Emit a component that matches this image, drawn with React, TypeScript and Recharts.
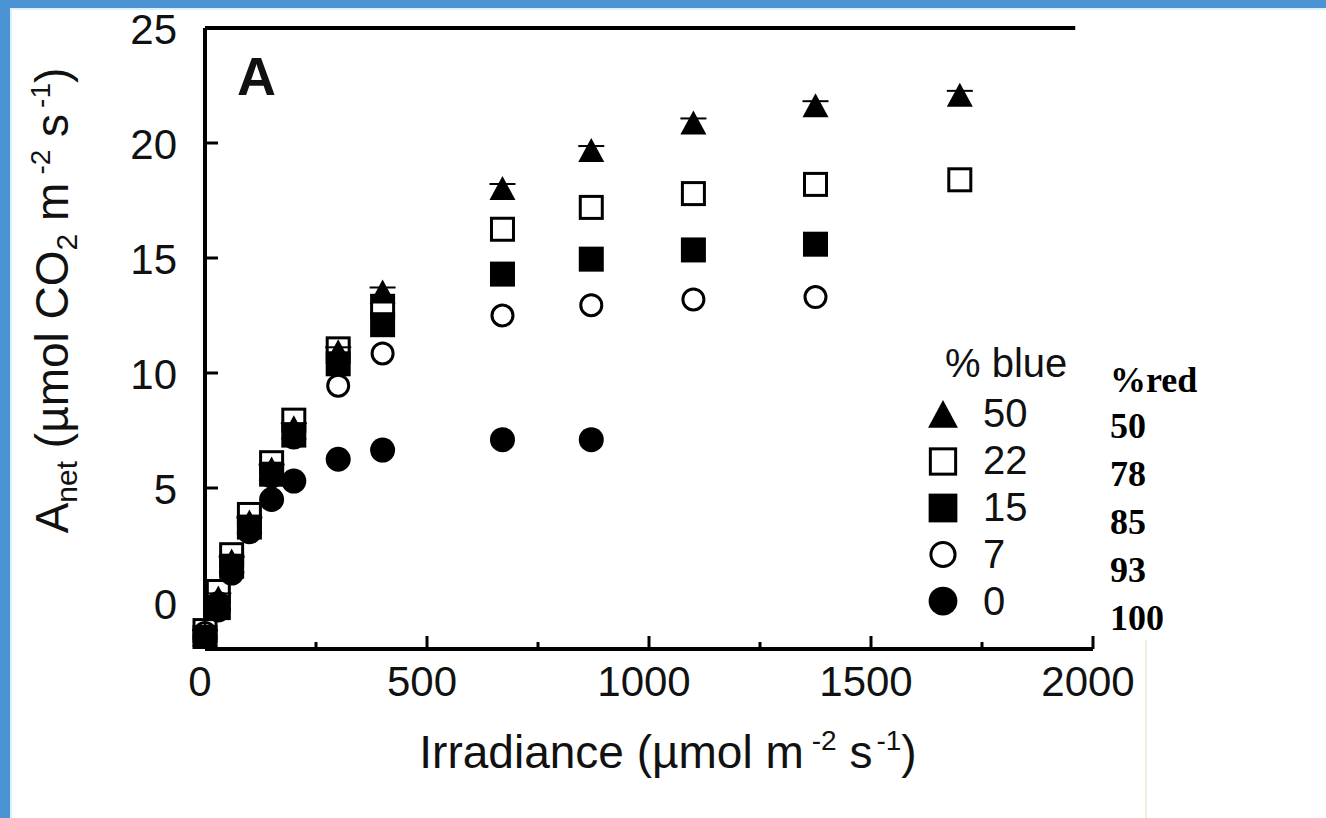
import React from "react";
import {
  ScatterChart, Scatter, XAxis, YAxis, ReferenceLine, Legend, Customized,
} from "recharts";

// irradiance steps (µmol m-2 s-1)
const IRRADIANCE = [0, 30, 60, 100, 150, 200, 300, 400, 670, 870, 1100, 1375, 1700];

// Anet per light mix
const BLUE_50 = [-1.4, 0.2, 1.8, 3.5, 5.8, 7.6, 10.9, 13.5, 18.0, 19.65, 20.85, 21.6, 22.05];
const BLUE_22 = [-1.2, 0.5, 2.1, 3.85, 6.1, 7.95, 11.05, 12.9, 16.25, 17.2, 17.8, 18.2, 18.4];
const BLUE_15 = [-1.5, -0.2, 1.6, 3.3, 5.6, 7.3, 10.4, 12.1, 14.3, 14.95, 15.35, 15.6];
const BLUE_7 = [-1.3, 0.0, 1.5, 3.2, 5.5, 7.2, 9.45, 10.85, 12.5, 12.95, 13.2, 13.3];
const BLUE_0 = [-1.5, -0.3, 1.3, 3.1, 4.5, 5.3, 6.25, 6.65, 7.1, 7.1];

const BLUE_LABELS = ["50", "22", "15", "7", "0"];
const RED_LABELS = ["50", "78", "85", "93", "100"];

const X_TICKS = [0, 250, 500, 750, 1000, 1250, 1500, 1750, 2000];
const Y_TICKS = [0, 5, 10, 15, 20, 25];

const SANS = "'Liberation Sans', Arial, sans-serif";
const SERIF = "'Liberation Serif', 'Times New Roman', serif";

const toPoints = (vals: number[]) => vals.map((y, i) => ({ x: IRRADIANCE[i], y }));

type Kind = "tri" | "openSq" | "sq" | "openCirc" | "circ";

function marker(kind: Kind, cx: number, cy: number, s = 1) {
  switch (kind) {
    case "tri":
      return (
        <g>
          <polygon
            points={`${cx},${cy - 13 * s} ${cx + 13 * s},${cy + 11 * s} ${cx - 13 * s},${cy + 11 * s}`}
            fill="#000"
          />
          {s === 1 && (
            <line x1={cx - 13} x2={cx + 13} y1={cy - 5} y2={cy - 5} stroke="#000" strokeWidth={2} />
          )}
        </g>
      );
    case "openSq":
      return <rect x={cx - 11 * s} y={cy - 11 * s} width={22 * s} height={22 * s} fill="#fff" stroke="#000" strokeWidth={3} />;
    case "sq":
      return <rect x={cx - 12.5 * s} y={cy - 12.5 * s} width={25 * s} height={25 * s} fill="#000" />;
    case "openCirc":
      return <circle cx={cx} cy={cy} r={10.5 * s} fill="#fff" stroke="#000" strokeWidth={3} />;
    default:
      return <circle cx={cx} cy={cy} r={12.5 * s} fill="#000" />;
  }
}

const shapeOf = (kind: Kind) => (p: any) => marker(kind, p.cx, p.cy);

const LEGEND_KINDS: Kind[] = ["tri", "openSq", "sq", "openCirc", "circ"];

const XTick = (props: any) => {
  const { x, y, payload } = props;
  const v = payload.value;
  const major = v % 500 === 0;
  return (
    <g>
      {v > 0 && <line x1={x} x2={x} y1={y} y2={y - (major ? 13 : 7)} stroke="#000" strokeWidth={3} />}
      {major && (
        <text x={x - 5} y={y + 47} textAnchor="middle" fontFamily={SANS} fontSize={42} fill="#111">
          {v}
        </text>
      )}
    </g>
  );
};

const YTick = (props: any) => {
  const { x, y, payload } = props;
  const v = payload.value;
  return (
    <g>
      {v > 0 && v < 25 && <line x1={x} x2={x + 13} y1={y} y2={y} stroke="#000" strokeWidth={3} />}
      <text x={x - 28} y={y + 16} textAnchor="end" fontFamily={SANS} fontSize={42} fill="#111">
        {v}
      </text>
    </g>
  );
};

const XTitle = (props: any) => {
  const vb = props.viewBox;
  return (
    <text x={vb.x + vb.width / 2 + 19} y={vb.y + 119} textAnchor="middle" fontFamily={SANS} fontSize={46} fill="#111">
      Irradiance (µmol m
      <tspan dx={8} dy={-18} fontSize={28}>-2</tspan>
      <tspan dy={18}> s</tspan>
      <tspan dx={4} dy={-18} fontSize={28}>-1</tspan>
      <tspan dy={18}>)</tspan>
    </text>
  );
};

const YTitle = (props: any) => {
  const vb = props.viewBox;
  const cy = vb.y + vb.height / 2 - 38;
  return (
    <text
      transform={`translate(68, ${cy}) rotate(-90)`}
      x={0}
      y={0}
      textAnchor="middle"
      fontFamily={SANS}
      fontSize={46}
      fill="#111"
    >
      A
      <tspan dy={9} fontSize={30}>net</tspan>
      <tspan dy={-9}> (µmol CO</tspan>
      <tspan dy={9} fontSize={30}>2</tspan>
      <tspan dy={-9}> m</tspan>
      <tspan dx={8} dy={-18} fontSize={28}>-2</tspan>
      <tspan dy={18}> s</tspan>
      <tspan dx={6} dy={-18} fontSize={28}>-1</tspan>
      <tspan dy={18}>)</tspan>
    </text>
  );
};

const LegendBox = () => (
  <svg width={400} height={320} style={{ display: "block" }}>
    <text x={45} y={47} fontFamily={SANS} fontSize={40} fill="#111">% blue</text>
    {BLUE_LABELS.map((lab, i) => (
      <g key={lab}>
        {marker(LEGEND_KINDS[i], 43, 85 + 46.5 * i, 1.15)}
        <text x={83} y={97 + 47 * i} fontFamily={SANS} fontSize={40} fill="#111">{lab}</text>
      </g>
    ))}
    <text x={210} y={62} fontFamily={SERIF} fontWeight="bold" fontSize={36} fill="#000">%red</text>
    {RED_LABELS.map((lab, i) => (
      <text key={lab} x={210} y={108 + 48 * i} fontFamily={SERIF} fontWeight="bold" fontSize={36} fill="#000">
        {lab}
      </text>
    ))}
  </svg>
);

export default function App() {
  return (
    <div style={{ position: "absolute", left: 0, top: 0, width: 1326, height: 818, background: "#fff", overflow: "hidden" }}>
      <div style={{ position: "absolute", left: 0, top: 0, width: 10, height: 818, background: "#4b93d3" }} />
      <div style={{ position: "absolute", left: 0, top: 0, width: 1326, height: 8, background: "#4b93d3" }} />
      <div style={{ position: "absolute", left: 10, top: 8, width: 2, height: 810, background: "#dcf1fa" }} />
      <div style={{ position: "absolute", left: 10, top: 8, width: 1316, height: 2, background: "#dcf1fa" }} />
      <div style={{ position: "absolute", left: 1145, top: 640, width: 2, height: 178, background: "#eef2dc" }} />
      <div style={{ position: "absolute", left: 0, top: 0 }}>
        <ScatterChart width={1326} height={818} margin={{ top: 28, right: 233, bottom: 109, left: 145 }}>
          <XAxis
            type="number"
            dataKey="x"
            domain={[0, 2000]}
            ticks={X_TICKS}
            interval={0}
            height={60}
            tickSize={0}
            tickMargin={0}
            tickLine={false}
            tick={<XTick />}
            axisLine={{ stroke: "#000", strokeWidth: 4 }}
            label={XTitle}
          />
          <YAxis
            type="number"
            dataKey="y"
            domain={[-2, 25]}
            ticks={Y_TICKS}
            interval={0}
            width={60}
            tickSize={0}
            tickMargin={0}
            tickLine={false}
            tick={<YTick />}
            axisLine={{ stroke: "#000", strokeWidth: 4 }}
            allowDataOverflow
            label={YTitle}
          />
          <ReferenceLine
            segment={[{ x: 0, y: 25 }, { x: 1960, y: 25 }]}
            stroke="#000"
            strokeWidth={4}
            ifOverflow="visible"
          />
          <Customized
            component={() => (
              <text x={237} y={95} fontFamily={SANS} fontWeight="bold" fontSize={54} fill="#111">A</text>
            )}
          />
          <Scatter name="22" data={toPoints(BLUE_22)} shape={shapeOf("openSq")} isAnimationActive={false} />
          <Scatter name="7" data={toPoints(BLUE_7)} shape={shapeOf("openCirc")} isAnimationActive={false} />
          <Scatter name="0" data={toPoints(BLUE_0)} shape={shapeOf("circ")} isAnimationActive={false} />
          <Scatter name="15" data={toPoints(BLUE_15)} shape={shapeOf("sq")} isAnimationActive={false} />
          <Scatter name="50" data={toPoints(BLUE_50)} shape={shapeOf("tri")} isAnimationActive={false} />
          <Legend
            layout="horizontal"
            verticalAlign="middle"
            align="center"
            content={() => <LegendBox />}
            wrapperStyle={{ left: 900, top: 330, width: 400, height: 320 }}
          />
        </ScatterChart>
      </div>
    </div>
  );
}
